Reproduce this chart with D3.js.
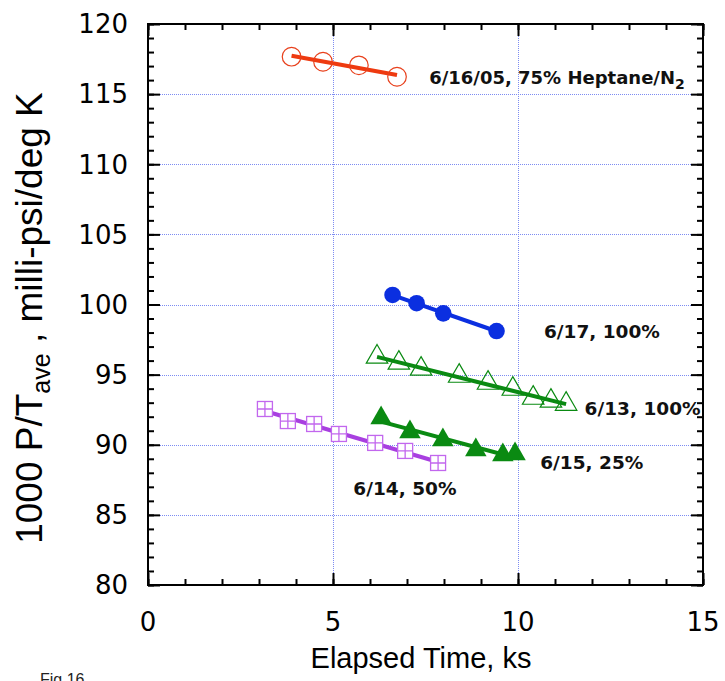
<!DOCTYPE html>
<html><head><meta charset="utf-8">
<script src="https://cdn.jsdelivr.net/npm/d3@7"></script>
<style>body{margin:0;background:#fff}</style>
</head><body>
<svg id="c" width="725" height="681"></svg>
<script>
const xTicks=[0,5,10,15];
const yTicks=[80,85,90,95,100,105,110,115,120];
const xGrid=[5,10];
const yGrid=[85,90,95,100,105,110,115];
const redX=[3.88,4.73,5.70,6.73];
const redY=[117.67,117.31,117.05,116.24];
const blueX=[6.61,7.26,7.98,9.42];
const blueY=[100.68,100.09,99.37,98.11];
const gOpenX=[6.19,6.78,7.38,8.41,9.19,9.86,10.41,10.89,11.30];
const gOpenY=[96.26,95.83,95.40,94.90,94.40,93.97,93.33,93.12,92.90];
const gFillX=[6.30,7.08,7.97,8.86,9.59,9.92];
const gFillY=[91.91,90.91,90.34,89.63,89.27,89.34];
const purX=[3.16,3.78,4.49,5.16,6.14,6.95,7.84];
const purY=[92.55,91.69,91.48,90.77,90.13,89.56,88.70];
const labels=[
  {t:"6/16/05, 75% Heptane/N",sub:"2",x:7.6,y:115.75,fs:18},
  {t:"6/17, 100%",x:10.7,y:97.6,fs:18.5},
  {t:"6/13, 100%",x:11.8,y:92.1,fs:18.5},
  {t:"6/15, 25%",x:10.6,y:88.3,fs:18.5},
  {t:"6/14, 50%",x:5.55,y:86.4,fs:18.5}
];

const svg=d3.select("#c");
const L=148,R=703,T=24,B=585;
const x=d3.scaleLinear().domain([0,15]).range([L,R]);
const y=d3.scaleLinear().domain([80,120]).range([B,T]);

// grid
const g=svg.append("g").attr("stroke","#7d8cf2").attr("stroke-width",1).attr("stroke-dasharray","1,1");
g.selectAll(".vx").data(xGrid).enter().append("line")
 .attr("x1",d=>x(d)+0.5).attr("x2",d=>x(d)+0.5).attr("y1",T).attr("y2",B);
g.selectAll(".hy").data(yGrid).enter().append("line")
 .attr("y1",d=>Math.round(y(d))+0.5).attr("y2",d=>Math.round(y(d))+0.5).attr("x1",L).attr("x2",R);

// axes: inward ticks, all four sides
function mk(axisFn,scale,vals,size,tx,ty){
  const a=svg.append("g").attr("transform",`translate(${tx},${ty})`)
   .call(axisFn(scale).tickValues(vals).tickSize(size).tickFormat(""));
  a.select(".domain").remove();
  a.selectAll("line").attr("stroke","#000").attr("stroke-width",2);
}
const xMinor=d3.range(0,16,1), yMinor=d3.range(80,121,1);
mk(d3.axisBottom,x,xMinor,-6,0,B);
mk(d3.axisBottom,x,xTicks,-12,0,B);
mk(d3.axisTop,x,xMinor,-6,0,T);
mk(d3.axisTop,x,xTicks,-12,0,T);
mk(d3.axisLeft,y,yMinor,-6,L,0);
mk(d3.axisLeft,y,yTicks,-12,L,0);
mk(d3.axisRight,y,yMinor,-6,R,0);
mk(d3.axisRight,y,yTicks,-12,R,0);
svg.append("rect").attr("x",L).attr("y",T).attr("width",R-L).attr("height",B-T)
 .attr("fill","none").attr("stroke","#000").attr("stroke-width",2);

// tick labels
svg.append("g").selectAll("text").data(yTicks).enter().append("text")
 .attr("x",L-20).attr("y",d=>y(d)).attr("dy","0.36em").attr("text-anchor","end")
 .attr("font-family","DejaVu Sans").attr("font-size",26).text(d=>d);
svg.append("g").selectAll("text").data(xTicks).enter().append("text")
 .attr("x",d=>x(d)).attr("y",B+46).attr("text-anchor","middle")
 .attr("font-family","DejaVu Sans").attr("font-size",26).text(d=>d);

// titles
svg.append("text").attr("x",421).attr("y",668).attr("text-anchor","middle")
 .attr("font-family","Liberation Sans").attr("font-size",29).text("Elapsed Time, ks");
const yt=svg.append("text").attr("transform",`translate(42,318) rotate(-90)`)
 .attr("text-anchor","middle").attr("font-family","Liberation Sans").attr("font-size",37);
yt.append("tspan").text("1000 P/T");
yt.append("tspan").attr("font-size",25).attr("dy",8).text("ave");
yt.append("tspan").attr("dy",-8).text(" , milli-psi/deg K");

svg.append("text").attr("x",40).attr("y",685).attr("font-family","Liberation Sans")
 .attr("font-size",16).attr("fill","#222").text("Fig 16");

// fit lines
function fit(xs,ys){
  const mx=d3.mean(xs),my=d3.mean(ys);
  const s=d3.sum(xs,(v,i)=>(v-mx)*(ys[i]-my))/d3.sum(xs,v=>(v-mx)*(v-mx));
  const x0=d3.min(xs),x1=d3.max(xs);
  return [[x0,my+s*(x0-mx)],[x1,my+s*(x1-mx)]];
}
const line=d3.line().x(d=>x(d[0])).y(d=>y(d[1]));
function drawFit(xs,ys,col){
  svg.append("path").attr("d",line(fit(xs,ys))).attr("stroke",col).attr("stroke-width",4)
   .attr("fill","none").attr("stroke-linecap","butt");
}
const RED="#ee3a10",BLUE="#0b2fe0",GREEN="#0a8a12",PUR="#a83fe0",PURL="#c267ee";

drawFit(purX,purY,PUR);
const pts=(xs,ys)=>xs.map((v,i)=>[v,ys[i]]);
const sq=svg.append("g").selectAll("g").data(pts(purX,purY)).enter().append("g")
 .attr("transform",d=>`translate(${x(d[0])},${y(d[1])})`);
sq.append("rect").attr("x",-7.5).attr("y",-7.5).attr("width",15).attr("height",15)
 .attr("fill","#fff").attr("stroke",PURL).attr("stroke-width",1.3);
sq.append("path").attr("d","M0,-7.5V7.5M-7.5,0H7.5").attr("stroke",PURL).attr("stroke-width",1.3);

drawFit(gFillX,gFillY,GREEN);
svg.append("g").selectAll("path").data(pts(gFillX,gFillY)).enter().append("path")
 .attr("transform",d=>`translate(${x(d[0])},${y(d[1])})`)
 .attr("d",d3.symbol(d3.symbolTriangle,200)()).attr("fill",GREEN);

drawFit(gOpenX,gOpenY,GREEN);
svg.append("g").selectAll("path").data(pts(gOpenX,gOpenY)).enter().append("path")
 .attr("transform",d=>`translate(${x(d[0])},${y(d[1])})`)
 .attr("d",d3.symbol(d3.symbolTriangle,200)()).attr("fill","none")
 .attr("stroke",GREEN).attr("stroke-width",1.2);

drawFit(blueX,blueY,BLUE);
svg.append("g").selectAll("circle").data(pts(blueX,blueY)).enter().append("circle")
 .attr("cx",d=>x(d[0])).attr("cy",d=>y(d[1])).attr("r",8.3).attr("fill",BLUE);

drawFit(redX,redY,RED);
svg.append("g").selectAll("circle").data(pts(redX,redY)).enter().append("circle")
 .attr("cx",d=>x(d[0])).attr("cy",d=>y(d[1])).attr("r",9.3).attr("fill","none")
 .attr("stroke","#e8401c").attr("stroke-width",1.2);

// labels
const lt=svg.append("g").selectAll("text").data(labels).enter().append("text")
 .attr("x",d=>x(d.x)).attr("y",d=>y(d.y)).attr("font-family","DejaVu Sans")
 .attr("font-weight","bold").attr("font-size",d=>d.fs).attr("fill","#111");
lt.append("tspan").text(d=>d.t);
lt.filter(d=>d.sub).append("tspan").attr("font-size",14).attr("dy",5).text(d=>d.sub);
</script>
</body></html>
